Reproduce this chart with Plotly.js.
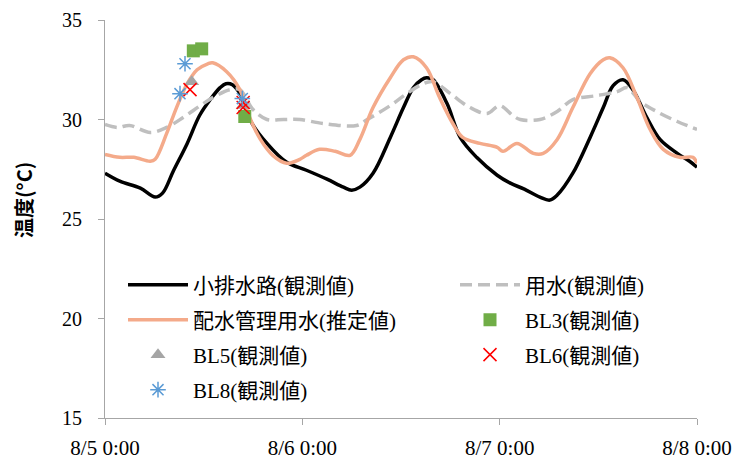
<!DOCTYPE html>
<html>
<head>
<meta charset="utf-8">
<script src="https://cdn.plot.ly/plotly-3.0.1.min.js"></script>
<style>html,body{margin:0;padding:0;background:#fff;}#chart{width:748px;height:464px;}</style>
</head>
<body>
<div id="chart"></div>
<script>
// Hours since 8/5 0:00 and temperatures (°C)
const drainHours = [0, 1.8, 4.3, 6.1, 7.0, 8.3, 10.0, 11.5, 12.8, 14.0, 14.7, 15.5, 16.4, 17.6, 19.7, 22.1, 24.5, 27.0, 29.0, 30.0, 31.0, 32.6, 34.7, 36.3, 37.5, 38.5, 39.1, 39.9, 41.6, 43.2, 45.2, 47.7, 49.3, 51.0, 52.9, 54.1, 55.0, 56.9, 59.0, 60.6, 61.8, 63.0, 64.2, 65.9, 67.5, 69.6, 71.1, 72];
const drainTemp  = [27.3, 26.9, 26.55, 26.1, 26.3, 27.4, 28.8, 30.2, 31.0, 31.6, 31.8, 31.75, 31.3, 30.0, 28.8, 27.85, 27.45, 27.0, 26.6, 26.45, 26.6, 27.3, 29.1, 30.6, 31.6, 32.0, 32.1, 32.0, 30.8, 29.1, 28.1, 27.2, 26.8, 26.5, 26.1, 25.95, 26.2, 27.3, 29.1, 30.6, 31.7, 32.0, 31.5, 30.1, 29.0, 28.3, 27.9, 27.6];

const supplyHours = [0, 1.5, 3.0, 5.5, 7.5, 9.5, 11.6, 13.1, 15.2, 16.4, 18.0, 19.7, 21.7, 23.7, 26.5, 30.6, 31.9, 34.7, 36.7, 38.7, 39.9, 42.0, 44.4, 46.5, 48.0, 49.6, 50.5, 52.9, 55.0, 56.9, 59.8, 62.3, 63.5, 65.1, 67.1, 69.6, 72];
const supplyTemp  = [29.75, 29.6, 29.7, 29.35, 29.6, 30.1, 30.7, 31.1, 31.5, 31.5, 30.5, 30.0, 30.0, 30.0, 29.8, 29.7, 30.0, 30.7, 31.3, 31.8, 31.9, 31.3, 30.6, 30.3, 30.7, 30.2, 30.0, 30.0, 30.4, 31.0, 31.2, 31.4, 31.6, 30.9, 30.4, 29.9, 29.5];

const managedHours = [0, 1.8, 3.5, 5.5, 6.1, 7.5, 8.7, 10.0, 11.2, 12.5, 13.1, 14.8, 16.4, 17.6, 18.9, 20.4, 22.1, 23.7, 24.5, 26.1, 28.0, 29.8, 31.0, 32.6, 34.7, 36.3, 37.5, 39.1, 40.7, 42.3, 43.5, 45.6, 47.7, 48.4, 50.1, 52.1, 53.3, 55.0, 56.9, 59.0, 60.6, 61.4, 63.0, 64.7, 66.3, 67.9, 69.9, 71.5, 72];
const managedTemp  = [28.25, 28.1, 28.1, 27.9, 28.0, 29.3, 30.6, 31.8, 32.5, 32.8, 32.85, 32.4, 31.5, 30.1, 29.0, 28.2, 27.8, 28.0, 28.2, 28.5, 28.4, 28.2, 29.0, 30.6, 32.1, 33.0, 33.15, 32.6, 31.1, 29.8, 29.1, 28.8, 28.6, 28.4, 28.8, 28.3, 28.3, 29.0, 30.6, 32.3, 33.0, 33.1, 32.6, 31.1, 29.5, 28.5, 28.1, 28.1, 27.8];

const bl3Hours = [10.74, 11.76, 17.0];
const bl3Temp  = [33.45, 33.55, 30.15];
const bl5Hours = [10.55, 16.8];
const bl5Temp  = [31.9, 30.7];
const bl6Hours = [10.34, 16.8, 16.8];
const bl6Temp  = [31.5, 30.85, 30.6];
const bl8Hours = [9.12, 9.73, 16.7];
const bl8Temp  = [31.3, 32.8, 31.05];

const xTickVals = [0, 24, 48, 72];
const xTickText = ['8/5 0:00', '8/6 0:00', '8/7 0:00', '8/8 0:00'];

const names = ['小排水路(観測値)', '用水(観測値)', '配水管理用水(推定値)', 'BL3(観測値)', 'BL5(観測値)', 'BL6(観測値)', 'BL8(観測値)'];

const base = Date.UTC(2023, 7, 5);
function toDate(h) { return new Date(base + Math.round(h * 3600e3)).toISOString().slice(0, 19).replace('T', ' '); }
const d = arr => arr.map(toDate);

const serif = 'Liberation Serif, "Noto Sans CJK JP", serif';

const traces = [
  {x: d(drainHours), y: drainTemp, name: names[0], mode: 'lines', line: {color: '#000000', width: 3.5, shape: 'spline', smoothing: 1}, legend: 'legend'},
  {x: d(supplyHours), y: supplyTemp, name: names[1], mode: 'lines', line: {color: '#BFBFBF', width: 3.5, dash: '12px,6px', shape: 'spline', smoothing: 1}, legend: 'legend2'},
  {x: d(managedHours), y: managedTemp, name: names[2], mode: 'lines', line: {color: '#F4AA8A', width: 3.5, shape: 'spline', smoothing: 1}, legend: 'legend3'},
  {x: d(bl3Hours), y: bl3Temp, name: names[3], mode: 'markers', marker: {symbol: 'square', size: 13, color: '#70AD47'}, legend: 'legend4'},
  {x: d(bl5Hours), y: bl5Temp, name: names[4], mode: 'markers', marker: {symbol: 'triangle-up', size: 13, color: '#A5A5A5'}, legend: 'legend5'},
  {x: d(bl6Hours), y: bl6Temp, name: names[5], mode: 'markers', marker: {symbol: 'x-thin-open', size: 13, color: '#FF0000', line: {color: '#FF0000', width: 1.5}}, legend: 'legend6'},
  {x: d(bl8Hours), y: bl8Temp, name: names[6], mode: 'markers', marker: {symbol: 'asterisk-open', size: 13, color: '#5B9BD5', line: {color: '#5B9BD5', width: 1.5}}, legend: 'legend7'}
];

const L = 105, R = 697, T = 20, B = 418;
const px = v => (v - L) / (R - L);
const py = v => (B - v) / (B - T);
function leg(colX, rowY) {
  return {x: px(colX), xanchor: 'left', y: py(rowY), yanchor: 'middle',
    itemwidth: 60, bgcolor: 'rgba(0,0,0,0)',
    font: {family: serif, size: 21, color: '#000'}};
}
const C1 = 123, C2 = 455;

const layout = {
  width: 748, height: 464,
  margin: {l: L, r: 748 - R, t: T, b: 464 - B},
  paper_bgcolor: '#fff', plot_bgcolor: '#fff',
  font: {family: serif, size: 20, color: '#000'},
  xaxis: {
    type: 'date',
    range: [toDate(0), toDate(72)],
    tickvals: d(xTickVals), ticktext: xTickText,
    showgrid: false, zeroline: false,
    showline: true, linecolor: '#A6A6A6', linewidth: 1,
    ticks: 'outside', ticklen: 6, tickcolor: '#A6A6A6',
    ticklabelstandoff: 5,
    tickfont: {family: serif, size: 21, color: '#000'}
  },
  yaxis: {
    range: [15, 35], tickvals: [15, 20, 25, 30, 35],
    showgrid: false, zeroline: false,
    showline: true, linecolor: '#A6A6A6', linewidth: 1,
    ticks: 'outside', ticklen: 6, tickcolor: '#A6A6A6',
    ticklabelstandoff: 12,
    tickfont: {family: serif, size: 20, color: '#000'}
  },
  showlegend: true,
  legend: leg(C1, 285),
  legend2: leg(C2, 285),
  legend3: leg(C1, 320),
  legend4: leg(C2, 320),
  legend5: leg(C1, 355),
  legend6: leg(C2, 355),
  legend7: leg(C1, 390),
  annotations: [{
    text: '温度(°C)', textangle: -90, showarrow: false,
    xref: 'paper', yref: 'paper', x: px(24), y: py(200), xanchor: 'center', yanchor: 'middle',
    font: {family: '"Noto Sans CJK JP", sans-serif', size: 20, color: '#000', weight: 'bold'}
  }]
};

Plotly.newPlot('chart', traces, layout, {displayModeBar: false, staticPlot: true});
</script>
</body>
</html>
